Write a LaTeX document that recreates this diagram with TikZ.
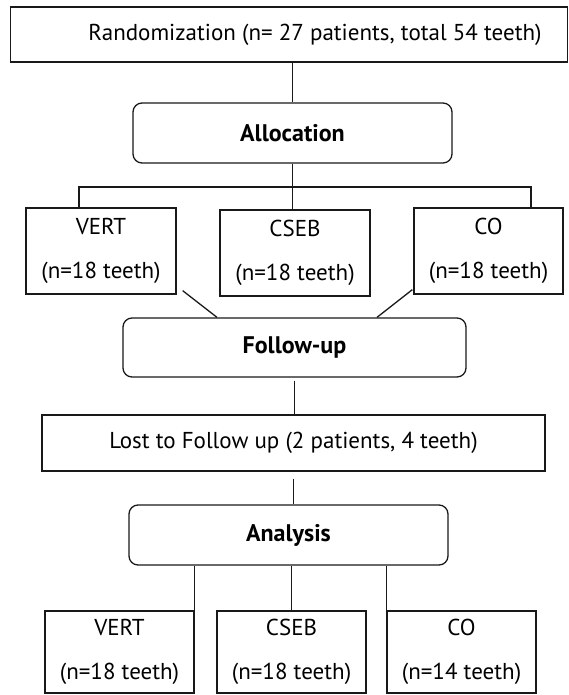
\documentclass[tikz,border=0pt]{standalone}
\usepackage{fontspec}
\setmainfont{PT Sans}
\begin{document}
\begin{tikzpicture}[x=1pt,y=-1pt,line width=1.3pt,
	box/.style={draw=black!90, inner sep=0pt, align=center, font=\fontsize{23}{44}\selectfont},
	stagebox/.style={box, rounded corners=9pt, font=\fontsize{24}{26}\selectfont\bfseries}]
	\useasboundingbox (0,0) rectangle (568,695);
	\node[box, minimum width=557pt, minimum height=55pt] (rand) at (289,34.5) {\hspace*{52pt}Randomization (n= 27 patients, total 54 teeth)};
	\node[stagebox, minimum width=319pt, minimum height=60pt] (alloc) at (292.5,133) {Allocation};
	\node[box, minimum width=150pt, minimum height=86pt] (vert) at (101,251) {VERT\\(n=18 teeth)};
	\node[box, minimum width=150pt, minimum height=86pt] (cseb) at (295,253) {CSEB\\(n=18 teeth)};
	\node[box, minimum width=149pt, minimum height=86pt] (co) at (488.5,251) {CO\\(n=18 teeth)};
	\node[stagebox, minimum width=343pt, minimum height=59pt] (fup) at (294.5,347.5) {Follow-up};
	\node[box, minimum width=503pt, minimum height=56pt] (lost) at (293.5,443) {Lost to Follow up (2 patients, 4 teeth)};
	\node[stagebox, minimum width=319pt, minimum height=60pt] (anal) at (288.5,535) {Analysis};
	\node[box, minimum width=149pt, minimum height=82pt] (vertb) at (119.5,652) {VERT\\(n=18 teeth)};
	\node[box, minimum width=149pt, minimum height=82pt] (csebb) at (291.5,652) {CSEB\\(n=18 teeth)};
	\node[box, minimum width=149pt, minimum height=82pt] (cob) at (461.5,652) {CO\\(n=14 teeth)};
	\coordinate (splitl) at (79,187);
	\coordinate (splitr) at (531,187);
	\draw[black!90] (alloc.north) -- (alloc.north |- rand.south);
	\draw[black!90] (alloc.south) -- (alloc.south |- cseb.north);
	\draw[black!90] (splitl |- vert.north) -- (splitl) -- (splitr) -- (splitr |- co.north);
	\draw[black!90] ([shift={(6,-4)}]vert.south east) -- ([xshift=-77.5pt]fup.north);
	\draw[black!90] ([shift={(-1,-5)}]co.south west) -- ([xshift=82.5pt]fup.north);
	\draw[black!90] ([yshift=-3pt]fup.south) -- (fup.south |- lost.north);
	\draw[black!90] ([yshift=-7pt]lost.south) -- (lost.south |- anal.north);
	\draw[black!90] (vertb.north east) -- (vertb.north east |- anal.south);
	\draw[black!90] (csebb.north) -- (csebb.north |- anal.south);
	\draw[black!90] (cob.north west) -- (cob.north west |- anal.south);
\end{tikzpicture}
\end{document}
